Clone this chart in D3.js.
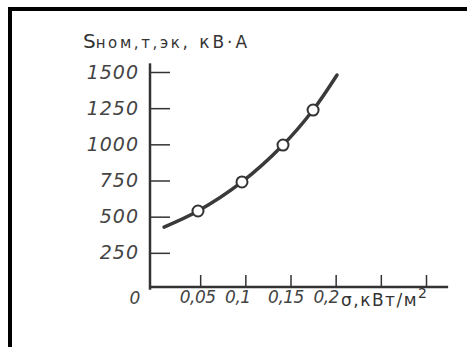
<!DOCTYPE html>
<html><head><meta charset="utf-8">
<script src="https://cdn.jsdelivr.net/npm/d3@7"></script>
<style>body{margin:0;background:#fff}</style>
</head><body>
<svg id="c" width="467" height="347"></svg>
<script>
// Data
const curveX = [0.010, 0.0476, 0.0963, 0.1417, 0.175, 0.2015];
const curveY = [428, 539, 740, 995, 1237, 1479];
const markerX = [0.0476, 0.0963, 0.1417, 0.175];
const markerY = [539, 740, 995, 1237];
const xTicks = [0.05, 0.1, 0.15, 0.2, 0.25, 0.3];
const xTickLabels = ["0,05", "0,1", "0,15", "0,2", "", ""];
const yTicks = [250, 500, 750, 1000, 1250, 1500];
const yTickLabels = ["250", "500", "750", "1000", "1250", "1500"];

const svg = d3.select("#c");
const ink = "#333";

// frame (top and left)
svg.append("rect").attr("x", 8).attr("y", 7).attr("width", 459).attr("height", 4).attr("fill", "#000");
svg.append("rect").attr("x", 8).attr("y", 7).attr("width", 4).attr("height", 340).attr("fill", "#000");

const x = d3.scaleLinear().domain([0, 0.3]).range([155, 426]);
const y = d3.scaleLinear().domain([0, 1500]).range([289, 72]);

const tickFont = "'DejaVu Sans', sans-serif";

// Y axis
const yAxis = d3.axisLeft(y).tickValues(yTicks)
  .tickFormat((d, i) => yTickLabels[i])
  .tickSizeInner(-20).tickSizeOuter(0).tickPadding(11);
const gy = svg.append("g").attr("transform", "translate(150,0)").call(yAxis);
gy.select(".domain").remove();
gy.selectAll(".tick line").attr("stroke", ink).attr("stroke-width", 1.5);
gy.selectAll(".tick text").attr("fill", "#444").attr("font-family", tickFont)
  .attr("font-style", "italic").attr("font-size", 19).attr("letter-spacing", 1);
gy.append("line").attr("x1", 0).attr("x2", 0).attr("y1", y(1560)).attr("y2", y(-5))
  .attr("stroke", ink).attr("stroke-width", 2.5);

// X axis
const xdx = [-3, -8, -5, -10, 0, 0];
const xAxis = d3.axisBottom(x).tickValues(xTicks)
  .tickFormat((d, i) => xTickLabels[i])
  .tickSizeInner(-12).tickSizeOuter(0).tickPadding(8);
const gx = svg.append("g").attr("transform", `translate(0,${y(0) - 2})`).call(xAxis);
gx.select(".domain").remove();
gx.selectAll(".tick line").attr("stroke", ink).attr("stroke-width", 1.5);
gx.selectAll(".tick text").attr("fill", "#444").attr("font-family", tickFont)
  .attr("font-style", "italic").attr("font-size", 17).attr("letter-spacing", -0.5)
  .attr("dx", (d, i) => xdx[i]).attr("dy", "0.45em");
gx.append("line").attr("x1", 150).attr("x2", x(0.3245)).attr("y1", 0).attr("y2", 0)
  .attr("stroke", ink).attr("stroke-width", 2.5);

// zero label
svg.append("text").attr("x", x(0) - 20).attr("y", 304).attr("text-anchor", "middle")
  .attr("fill", "#444").attr("font-family", tickFont).attr("font-style", "italic")
  .attr("font-size", 17).text("0");

// x title
const xt = svg.append("text").attr("x", 341).attr("y", 306)
  .attr("fill", "#333").attr("font-family", tickFont).attr("font-size", 17).attr("letter-spacing", 1.5);
xt.append("tspan").text("σ,кВт/м");
xt.append("tspan").attr("dy", -8).attr("font-size", 14).text("2");

// y title
const yt = svg.append("text").attr("x", 83).attr("y", 48).attr("fill", "#333")
  .attr("font-family", tickFont);
yt.append("tspan").attr("font-size", 20).text("S");
yt.append("tspan").attr("font-size", 15).attr("letter-spacing", 2.6).text("ном,т,эк");
yt.append("tspan").attr("font-size", 17).attr("letter-spacing", 3).text(", кВ·А");

// curve
const pts = curveX.map((d, i) => [x(d), y(curveY[i])]);
svg.append("path").attr("d", d3.line().curve(d3.curveCatmullRom)(pts))
  .attr("fill", "none").attr("stroke", "#3a3a3a").attr("stroke-width", 3.5).attr("stroke-linecap", "round");

// markers
svg.selectAll("circle.m").data(markerX).enter().append("circle").attr("class", "m")
  .attr("cx", d => x(d)).attr("cy", (d, i) => y(markerY[i])).attr("r", 5.5)
  .attr("fill", "#fff").attr("stroke", "#333").attr("stroke-width", 2);
</script>
</body></html>
